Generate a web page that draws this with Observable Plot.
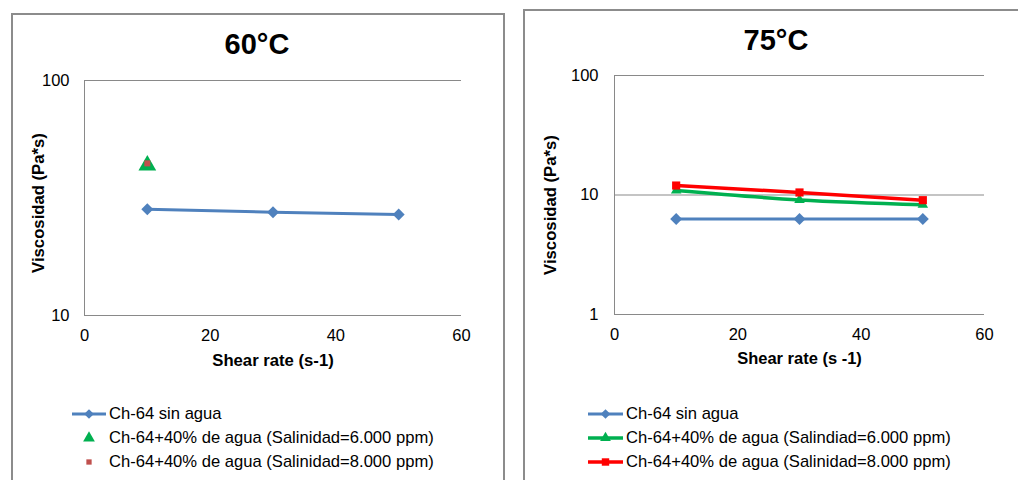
<!DOCTYPE html>
<html>
<head>
<meta charset="utf-8">
<script src="https://cdn.jsdelivr.net/npm/d3@7"></script>
<script src="https://cdn.jsdelivr.net/npm/@observablehq/plot@0.6"></script>
<style>
  html, body { margin: 0; padding: 0; background: #fff; overflow: hidden; }
  #root { position: relative; width: 1018px; height: 480px; overflow: hidden; font-family: "Liberation Sans", Arial, sans-serif; color: #000; }
  .panel { position: absolute; border: 2px solid #8c8c8c; box-sizing: border-box; background: #fff; }
  .title { position: absolute; font-size: 29px; font-weight: bold; line-height: 29px; white-space: nowrap; transform: translateX(-50%); }
  .leg { position: absolute; font-size: 16.6px; line-height: 24px; white-space: nowrap; }
  .sw { position: absolute; overflow: visible; }
  .plotbox { position: absolute; top: 0; }
</style>
</head>
<body>
<div id="root">
  <div class="panel" style="left:11px; top:13px; width:494px; height:520px; border-bottom:none;"></div>
  <div class="panel" style="left:523px; top:9px; width:600px; height:520px; border-right:none; border-bottom:none;"></div>
  <div class="title" style="left:257px; top:30px;">60°C</div>
  <div class="title" style="left:776px; top:26px;">75°C</div>
  <div id="p60" class="plotbox" style="left:0px;"></div>
  <div id="p75" class="plotbox" style="left:510px;"></div>
  <div id="leg60"></div>
  <div id="leg75"></div>
</div>
<script>
// ---------- data ----------
const shearRate = [10, 30, 50];
const shearRate60Water = [10];

const visc60SinAgua = [28.3, 27.5, 26.9];
const visc60Sal6000 = [44.4];
const visc60Sal8000 = [44.4];

const visc75SinAgua = [6.3, 6.3, 6.3];
const visc75Sal6000 = [10.9, 9.1, 8.3];
const visc75Sal8000 = [12.0, 10.5, 9.05];

const names60 = ["Ch-64 sin agua", "Ch-64+40% de agua (Salinidad=6.000 ppm)", "Ch-64+40% de agua (Salinidad=8.000 ppm)"];
const names75 = ["Ch-64 sin agua", "Ch-64+40% de agua (Salindiad=6.000 ppm)", "Ch-64+40% de agua (Salinidad=8.000 ppm)"];

const xTicks = [0, 20, 40, 60];
const yTicks60 = [10, 100];
const yTicks75 = [1, 10, 100];

const xLabel60 = "Shear rate (s-1)";
const xLabel75 = "Shear rate (s\u00a0-1)";
const yLabel = "Viscosidad (Pa*s)";

const BLUE = "#4f81bd", GREEN = "#00b050", RED = "#ff0000", DRED = "#c0504d", GRID = "#898989";

const rows = (xs, ys) => xs.map((x, i) => ({x, y: ys[i]}));

const s60a = rows(shearRate, visc60SinAgua);
const s60b = rows(shearRate60Water, visc60Sal6000);
const s60c = rows(shearRate60Water, visc60Sal8000);
const s75a = rows(shearRate, visc75SinAgua);
const s75b = rows(shearRate, visc75Sal6000);
const s75c = rows(shearRate, visc75Sal8000);

const baseStyle = {fontFamily: "'Liberation Sans', Arial, sans-serif", fontSize: "16.5px", color: "#000", background: "none", overflow: "visible"};

const p60 = Plot.plot({
  width: 505, height: 380,
  marginLeft: 84, marginRight: 44, marginTop: 80, marginBottom: 65,
  style: baseStyle,
  x: {domain: [0, 60]},
  y: {type: "log", domain: [10, 100]},
  marks: [
    Plot.ruleY(yTicks60, {stroke: GRID, strokeWidth: 1}),
    Plot.ruleX([0], {stroke: GRID, strokeWidth: 1}),
    Plot.axisX({ticks: xTicks, tickSize: 0, tickPadding: 14, label: null, tickFormat: d => String(d)}),
    Plot.axisY({ticks: yTicks60, tickSize: 0, tickPadding: 15, label: null, tickFormat: d => String(d)}),
    Plot.line(s60a, {x: "x", y: "y", stroke: BLUE, strokeWidth: 3}),
    Plot.dot(s60a, {x: "x", y: "y", symbol: "diamond2", r: 5.4, fill: BLUE, stroke: "none"}),
    Plot.dot(s60b, {x: "x", y: "y", symbol: "triangle", r: 6.6, fill: GREEN, stroke: "none", dy: 2}),
    Plot.dot(s60c, {x: "x", y: "y", symbol: "square", r: 3.4, fill: DRED, stroke: "none"}),
    Plot.text([xLabel60], {text: d => d, frameAnchor: "bottom", dy: 45, fontWeight: "bold", lineAnchor: "middle", fontSize: 16.7}),
    Plot.text([yLabel], {text: d => d, frameAnchor: "left", textAnchor: "middle", rotate: -90, dx: -46, dy: 5, fontWeight: "bold", lineAnchor: "middle", fontSize: 16.7})
  ]
});
document.getElementById("p60").append(p60);

const p75 = Plot.plot({
  width: 508, height: 380,
  marginLeft: 104, marginRight: 34, marginTop: 75, marginBottom: 66,
  style: baseStyle,
  x: {domain: [0, 60]},
  y: {type: "log", domain: [1, 100]},
  marks: [
    Plot.ruleY(yTicks75, {stroke: GRID, strokeWidth: 1}),
    Plot.ruleX([0], {stroke: GRID, strokeWidth: 1}),
    Plot.axisX({ticks: xTicks, tickSize: 0, tickPadding: 14, label: null, tickFormat: d => String(d)}),
    Plot.axisY({ticks: yTicks75, tickSize: 0, tickPadding: 16, label: null, tickFormat: d => String(d)}),
    Plot.line(s75a, {x: "x", y: "y", stroke: BLUE, strokeWidth: 3}),
    Plot.dot(s75a, {x: "x", y: "y", symbol: "diamond2", r: 5.4, fill: BLUE, stroke: "none"}),
    Plot.line(s75b, {x: "x", y: "y", stroke: GREEN, strokeWidth: 3.5, curve: "catmull-rom"}),
    Plot.dot(s75b, {x: "x", y: "y", symbol: "triangle", r: 3.9, fill: GREEN, stroke: "none"}),
    Plot.line(s75c, {x: "x", y: "y", stroke: RED, strokeWidth: 3.5}),
    Plot.dot(s75c, {x: "x", y: "y", symbol: "square", r: 4.6, fill: RED, stroke: "none"}),
    Plot.text([xLabel75], {text: d => d, frameAnchor: "bottom", dy: 44, fontWeight: "bold", lineAnchor: "middle", fontSize: 16.5}),
    Plot.text([yLabel], {text: d => d, frameAnchor: "left", textAnchor: "middle", rotate: -90, dx: -64, dy: 10, fontWeight: "bold", lineAnchor: "middle", fontSize: 16.7})
  ]
});
document.getElementById("p75").append(p75);

// ---------- legends ----------
const legendRowsY = [414, 438, 462];
function sym(type, cx, cy, size, color) {
  const p = d3.symbol(type, size)();
  return `<path d="${p}" transform="translate(${cx},${cy})" fill="${color}"/>`;
}
function legend(containerId, lineX0, lineX1, textX, items) {
  const c = document.getElementById(containerId);
  let html = "";
  items.forEach((it, i) => {
    const y = legendRowsY[i];
    const mx = (lineX0 + lineX1) / 2;
    const w = 40, h = 20;
    let svg = `<svg class="sw" style="left:${lineX0 - 3}px;top:${y - h / 2}px" width="${w}" height="${h}"><g transform="translate(${-(lineX0 - 3)},${-(y - h / 2)})">`;
    if (it.line) svg += `<line x1="${lineX0}" x2="${lineX1}" y1="${y}" y2="${y}" stroke="${it.color}" stroke-width="${it.lw}"/>`;
    svg += sym(it.sym, mx, y, it.size, it.mcolor || it.color);
    svg += `</g></svg>`;
    html += svg;
    html += `<div class="leg" style="left:${textX}px; top:${y - 12}px;">${it.name}</div>`;
  });
  c.innerHTML = html;
}
legend("leg60", 72, 106, 109, [
  {name: names60[0], line: true, color: BLUE, lw: 3, sym: d3.symbolDiamond2, size: 60},
  {name: names60[1], line: false, color: GREEN, sym: d3.symbolTriangle, size: 60},
  {name: names60[2], line: false, color: DRED, sym: d3.symbolSquare, size: 28}
]);
legend("leg75", 588, 623, 626, [
  {name: names75[0], line: true, color: BLUE, lw: 3, sym: d3.symbolDiamond2, size: 60},
  {name: names75[1], line: true, color: GREEN, lw: 3.5, sym: d3.symbolTriangle, size: 50},
  {name: names75[2], line: true, color: RED, lw: 3.5, sym: d3.symbolSquare, size: 55}
]);
</script>
</body>
</html>
